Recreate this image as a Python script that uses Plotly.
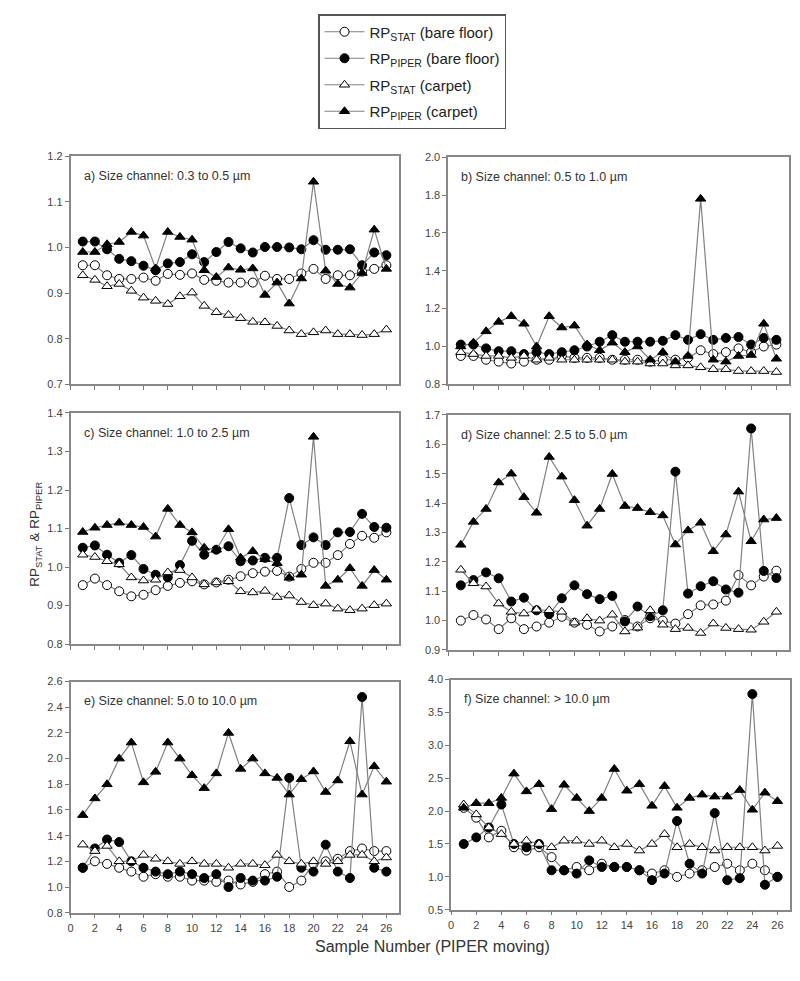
import plotly.graph_objects as go

samples = list(range(1, 27))

# panel a) 0.3-0.5 um
a_stat_bare = [0.961,0.961,0.939,0.931,0.931,0.934,0.927,0.942,0.940,0.943,0.929,0.927,0.923,0.923,0.923,0.938,0.931,0.931,0.943,0.953,0.931,0.939,0.939,0.947,0.953,0.961]
a_piper_bare = [1.013,1.013,0.996,0.975,0.970,0.960,0.950,0.965,0.968,0.985,0.968,0.990,1.012,0.998,0.989,1.001,1.001,1.000,0.996,1.016,0.995,0.995,0.996,0.961,0.989,0.983]
a_stat_carpet = [0.939,0.929,0.915,0.920,0.905,0.890,0.883,0.876,0.893,0.901,0.872,0.858,0.852,0.845,0.837,0.836,0.828,0.818,0.810,0.814,0.818,0.810,0.810,0.808,0.810,0.820]
a_piper_carpet = [0.990,0.990,1.007,1.012,1.034,1.026,0.954,1.034,1.023,1.017,0.950,0.935,0.956,0.951,0.954,0.896,0.923,0.877,0.932,1.144,0.949,0.920,0.912,0.944,1.039,0.953]

# panel b) 0.5-1.0 um
b_stat_bare = [0.95,0.95,0.93,0.92,0.91,0.92,0.93,0.93,0.95,0.94,0.94,0.94,0.93,0.93,0.93,0.92,0.93,0.93,0.94,0.98,0.96,0.97,0.99,0.97,1.00,1.01]
b_piper_bare = [1.01,1.01,0.99,0.975,0.975,0.96,0.97,0.96,0.97,0.98,1.00,1.025,1.06,1.025,1.025,1.025,1.03,1.06,1.035,1.065,1.035,1.045,1.05,1.01,1.045,1.035]
b_stat_carpet = [0.97,0.96,0.95,0.95,0.94,0.95,0.93,0.94,0.93,0.93,0.93,0.93,0.93,0.92,0.92,0.91,0.91,0.90,0.90,0.89,0.88,0.88,0.87,0.87,0.87,0.865]
b_piper_carpet = [1.00,1.02,1.08,1.13,1.16,1.12,1.00,1.16,1.10,1.11,1.01,0.98,1.02,0.97,1.00,0.93,0.97,0.92,0.95,1.78,0.93,0.92,0.95,0.955,1.12,0.935]

# panel c) 1.0-2.5 um
c_stat_bare = [0.953,0.970,0.953,0.937,0.924,0.928,0.940,0.951,0.959,0.963,0.955,0.960,0.967,0.976,0.984,0.988,0.990,0.975,0.995,1.011,1.011,1.031,1.060,1.081,1.076,1.090]
c_piper_bare = [1.050,1.056,1.032,1.011,1.031,0.995,0.980,0.973,1.005,1.068,1.032,1.045,1.054,1.015,1.017,1.024,1.024,1.179,1.057,1.077,1.057,1.090,1.091,1.138,1.104,1.102]
c_stat_carpet = [1.032,1.026,1.015,1.007,0.973,0.965,0.967,0.986,0.992,0.973,0.955,0.960,0.963,0.937,0.934,0.938,0.922,0.926,0.909,0.901,0.905,0.892,0.888,0.892,0.901,0.905]
c_piper_carpet = [1.091,1.102,1.109,1.115,1.109,1.104,1.079,1.151,1.109,1.090,1.050,1.045,1.098,1.024,1.041,1.020,1.010,0.972,0.980,1.338,0.951,0.967,0.997,0.951,0.992,0.967]

# panel d) 2.5-5.0 um
d_stat_bare = [1.000,1.019,1.004,0.971,1.008,0.971,0.980,0.993,1.013,0.993,0.986,0.963,0.980,1.002,0.980,1.008,1.000,0.990,1.022,1.052,1.055,1.068,1.155,1.120,1.150,1.170]
d_piper_bare = [1.120,1.138,1.164,1.144,1.065,1.078,1.035,1.022,1.076,1.120,1.090,1.073,1.084,0.997,1.048,1.015,1.035,1.507,1.092,1.117,1.134,1.106,1.095,1.654,1.169,1.145]
d_stat_carpet = [1.173,1.127,1.116,1.058,1.030,1.024,1.037,1.035,1.030,0.993,1.008,1.000,1.020,0.963,0.976,1.035,0.986,0.971,0.975,0.958,0.990,0.975,0.971,0.969,0.996,1.030]
d_piper_carpet = [1.258,1.336,1.380,1.470,1.500,1.420,1.367,1.557,1.490,1.410,1.323,1.380,1.499,1.390,1.383,1.369,1.358,1.259,1.307,1.333,1.236,1.293,1.439,1.270,1.344,1.349]

# panel e) 5.0-10.0 um
e_stat_bare = [1.15,1.20,1.18,1.15,1.12,1.08,1.10,1.08,1.08,1.05,1.05,1.04,1.05,1.02,1.04,1.10,1.12,1.00,1.05,1.18,1.20,1.22,1.28,1.30,1.28,1.28]
e_piper_bare = [1.15,1.30,1.37,1.35,1.20,1.15,1.12,1.10,1.12,1.10,1.07,1.10,1.00,1.07,1.05,1.05,1.08,1.85,1.15,1.12,1.33,1.12,1.07,2.48,1.15,1.12]
e_stat_carpet = [1.33,1.28,1.32,1.20,1.20,1.25,1.22,1.20,1.18,1.20,1.18,1.18,1.15,1.18,1.18,1.17,1.25,1.20,1.18,1.20,1.18,1.20,1.25,1.25,1.20,1.23]
e_piper_carpet = [1.56,1.69,1.80,2.00,2.125,1.815,1.897,2.125,2.00,1.87,1.77,1.885,2.20,1.92,2.00,1.885,1.85,1.72,1.84,1.90,1.74,1.83,2.135,1.72,1.94,1.82]

# panel f) > 10.0 um
f_stat_bare = [2.05,1.90,1.60,1.70,1.45,1.40,1.45,1.30,1.10,1.15,1.10,1.20,1.15,1.15,1.10,1.05,1.10,1.00,1.05,1.10,1.15,1.20,1.10,1.20,1.10,1.00]
f_piper_bare = [1.50,1.60,1.75,2.10,1.50,1.45,1.50,1.10,1.10,1.05,1.25,1.15,1.15,1.15,1.10,0.95,1.05,1.85,1.20,1.05,1.97,0.95,0.98,3.78,0.88,1.00]
f_stat_carpet = [2.10,1.95,1.75,1.65,1.50,1.55,1.50,1.45,1.55,1.55,1.50,1.55,1.45,1.50,1.40,1.50,1.65,1.45,1.50,1.45,1.40,1.45,1.45,1.45,1.40,1.47]
f_piper_carpet = [2.05,2.12,2.12,2.20,2.57,2.30,2.41,2.03,2.40,2.20,2.00,2.20,2.64,2.31,2.41,2.08,2.38,2.05,2.20,2.25,2.22,2.22,2.32,2.02,2.28,2.15]

panel_titles = ["a) Size channel: 0.3 to 0.5 µm", "b) Size channel: 0.5 to 1.0 µm",
                "c) Size channel: 1.0 to 2.5 µm", "d) Size channel: 2.5 to 5.0 µm",
                "e) Size channel: 5.0 to 10.0 µm", "f) Size channel: > 10.0 µm"]
series_names = ["RP<sub>STAT</sub> (bare floor)", "RP<sub>PIPER</sub> (bare floor)",
                "RP<sub>STAT</sub> (carpet)", "RP<sub>PIPER</sub> (carpet)"]
y_ranges = [(0.7, 1.2, 0.1), (0.8, 2.0, 0.2), (0.8, 1.4, 0.1), (0.9, 1.7, 0.1), (0.8, 2.6, 0.2), (0.5, 4.0, 0.5)]
x_ticks = list(range(0, 27, 2))

panels = [
    (a_stat_bare, a_piper_bare, a_stat_carpet, a_piper_carpet),
    (b_stat_bare, b_piper_bare, b_stat_carpet, b_piper_carpet),
    (c_stat_bare, c_piper_bare, c_stat_carpet, c_piper_carpet),
    (d_stat_bare, d_piper_bare, d_stat_carpet, d_piper_carpet),
    (e_stat_bare, e_piper_bare, e_stat_carpet, e_piper_carpet),
    (f_stat_bare, f_piper_bare, f_stat_carpet, f_piper_carpet),
]

# page body has an 8px margin: figure is drawn 8px in, so shrink and offset
OFF = 8
W, H = 800 - 2 * OFF, 981 - 2 * OFF
# pixel boxes in page coords (left, right, top, bottom)
boxes = [(68, 398, 152, 383), (448, 791, 153, 383),
         (68, 398, 412, 646), (448, 791, 414, 652),
         (68, 398, 684, 918), (451, 792, 682, 915)]

def px(xp):
    return min(max((xp - OFF) / W, 0.0), 1.0)

def py(yp):
    return min(max(1 - (yp - OFF) / H, 0.0), 1.0)

marker_styles = [
    dict(symbol="circle", color="white"),
    dict(symbol="circle", color="black"),
    dict(symbol="triangle-up", color="white"),
    dict(symbol="triangle-up", color="black"),
]

fig = go.Figure()
layout = {}
for p, data in enumerate(panels):
    k = p + 1
    xa = "x" if k == 1 else f"x{k}"
    ya = "y" if k == 1 else f"y{k}"
    for s, vals in enumerate(data):
        ms = marker_styles[s]
        fig.add_trace(go.Scatter(
            x=samples, y=vals, xaxis=xa, yaxis=ya, mode="lines+markers",
            name=series_names[s], legendgroup=str(s), showlegend=(p == 0),
            line=dict(color="#808080", width=1.2),
            marker=dict(symbol=ms["symbol"], size=9, color=ms["color"],
                        line=dict(color="black", width=1)),
        ))
    l, r, t, b = boxes[p]
    lo, hi, dt = y_ranges[p]
    nt = int(round((hi - lo) / dt))
    yt = [round(lo + i * dt, 2) for i in range(nt + 1)]
    layout["xaxis" if k == 1 else f"xaxis{k}"] = dict(
        domain=[px(l), px(r)], anchor=ya, range=[0, 27],
        tickvals=x_ticks, showticklabels=(p >= 4), ticks="outside", ticklen=4,
        tickcolor="#777", showline=True, linecolor="#888", linewidth=1.5, mirror=True,
        showgrid=False, zeroline=False, tickfont=dict(size=11, color="#444"))
    layout["yaxis" if k == 1 else f"yaxis{k}"] = dict(
        domain=[py(b), py(t)], anchor=xa, range=[lo, hi],
        tickvals=yt, ticktext=[f"{v:.1f}" for v in yt], ticks="outside", ticklen=4,
        tickcolor="#777", showline=True, linecolor="#888", linewidth=1.5, mirror=True,
        showgrid=False, zeroline=False, tickfont=dict(size=11, color="#444"))

annotations = []
for p, title in enumerate(panel_titles):
    l, r, t, b = boxes[p]
    annotations.append(dict(text=title, x=px(l + 11), y=py(t + 20), xref="paper", yref="paper",
                            xanchor="left", yanchor="middle", showarrow=False,
                            font=dict(size=12.5, color="#333")))
annotations.append(dict(text="RP<sub>STAT</sub> & RP<sub>PIPER</sub>", x=px(22), y=py(535),
                        xref="paper", yref="paper", textangle=-90, showarrow=False,
                        font=dict(size=13.5, color="#333")))
annotations.append(dict(text="Sample Number (PIPER moving)", x=px(432), y=py(963),
                        xref="paper", yref="paper", showarrow=False,
                        font=dict(size=16, color="#333")))

fig.update_layout(
    width=W, height=H, margin=dict(l=0, r=0, t=0, b=0),
    paper_bgcolor="white", plot_bgcolor="white",
    font=dict(family="Liberation Sans, Arial, sans-serif"),
    annotations=annotations,
    legend=dict(x=px(317), y=py(4), xanchor="left", yanchor="top",
                bordercolor="#555", borderwidth=1.5, bgcolor="white",
                font=dict(size=15, color="#222"), tracegroupgap=4, itemwidth=40,
                traceorder="grouped"),
    **layout,
)

fig.write_html("out.html")
